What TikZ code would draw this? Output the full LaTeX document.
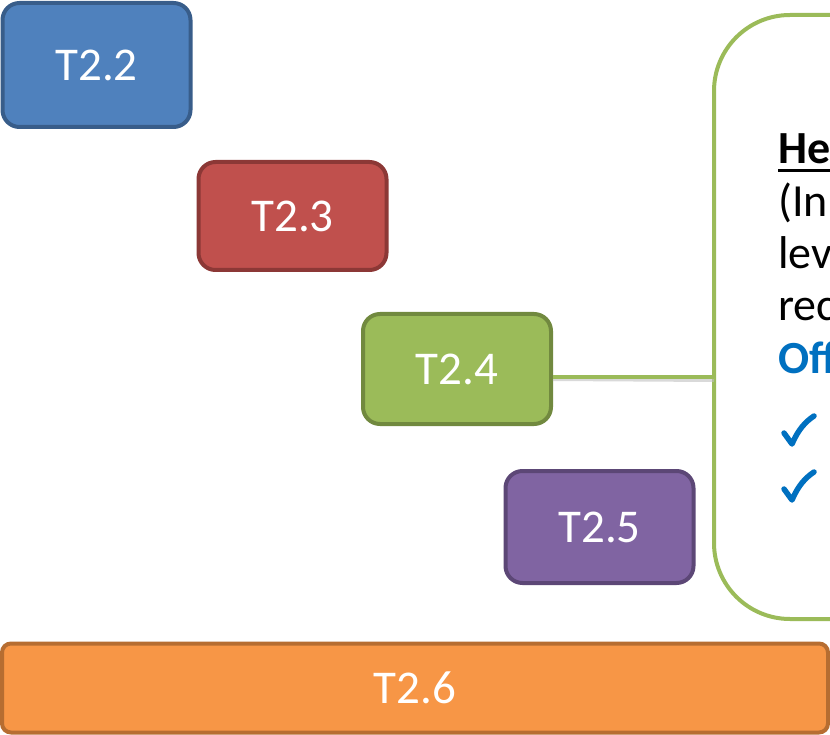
\documentclass[tikz,border=0pt]{standalone}
\usepackage{fontspec}
\setmainfont{Carlito}
\usetikzlibrary{calc}
\definecolor{bfill}{HTML}{4F81BD}\definecolor{bline}{HTML}{385D8A}
\definecolor{rfill}{HTML}{C0504D}\definecolor{rline}{HTML}{8C3836}
\definecolor{gfill}{HTML}{9BBB59}\definecolor{gline}{HTML}{71893F}
\definecolor{pfill}{HTML}{8064A2}\definecolor{pline}{HTML}{5C4776}
\definecolor{ofill}{HTML}{F79646}\definecolor{oline}{HTML}{B66D31}
\definecolor{offblue}{HTML}{0070C0}
\tikzset{
  task/.style={draw=#1line, fill=#1fill, line width=4pt, rounded corners=17pt,
    minimum width=188pt, minimum height=108pt, inner sep=0pt,
    text=white, font=\fontsize{47}{56}\selectfont},
  ctext/.style={anchor=base west, inner sep=0pt, font=\fontsize{46}{54}\selectfont},
}
\begin{document}
\begin{tikzpicture}[x=1pt,y=-1pt]
\useasboundingbox (0,0) rectangle (830,735);
\clip (0,0) rectangle (830,735);
% callout
\draw[gfill, line width=4pt, rounded corners=76pt, fill=white] (714,15) rectangle (1000,619);
\coordinate (cl) at (714,377);
% tasks
\node[task=b, minimum height=124pt] (t22) at (96.5,65) {T2.2};
\node[task=r, minimum height=108pt] (t23) at (292.5,216) {T2.3};
\node[task=g, minimum height=110pt] (t24) at (457,369) {T2.4};
\node[task=p, minimum height=112pt] (t25) at (599.5,527) {T2.5};
\node[task=o, minimum width=826pt, minimum height=89pt, rounded corners=9pt] (t26) at (415,688) {T2.6};
% connector with shadow
\draw[black!25, line width=4pt, opacity=0.6] ($(t24.east)+(0,10)$) -- ($(cl)+(0,3)$);
\draw[gfill, line width=4pt] (t24.east |- cl) -- (cl);
% callout text
\node[ctext, font=\fontsize{46}{54}\selectfont\bfseries] (l1) at (778,164) {He};
\draw[black, line width=3pt] (778,171) -- (830,171);
\node[ctext] (l2) at (778,217) {(In};
\node[ctext] (l3) at (778,269) {lev};
\node[ctext] (l4) at (778,321) {rec};
\node[ctext, text=offblue, font=\fontsize{46}{54}\selectfont\bfseries] (l5) at (778,373) {Off};
\draw[offblue, line width=5.5pt, line join=round, line cap=round] (784,433) -- (792,444) .. controls (798,430) and (805,422) .. (814,416);
\draw[offblue, line width=5.5pt, line join=round, line cap=round] (784,489) -- (792,500) .. controls (798,486) and (805,478) .. (814,472);
\end{tikzpicture}
\end{document}
